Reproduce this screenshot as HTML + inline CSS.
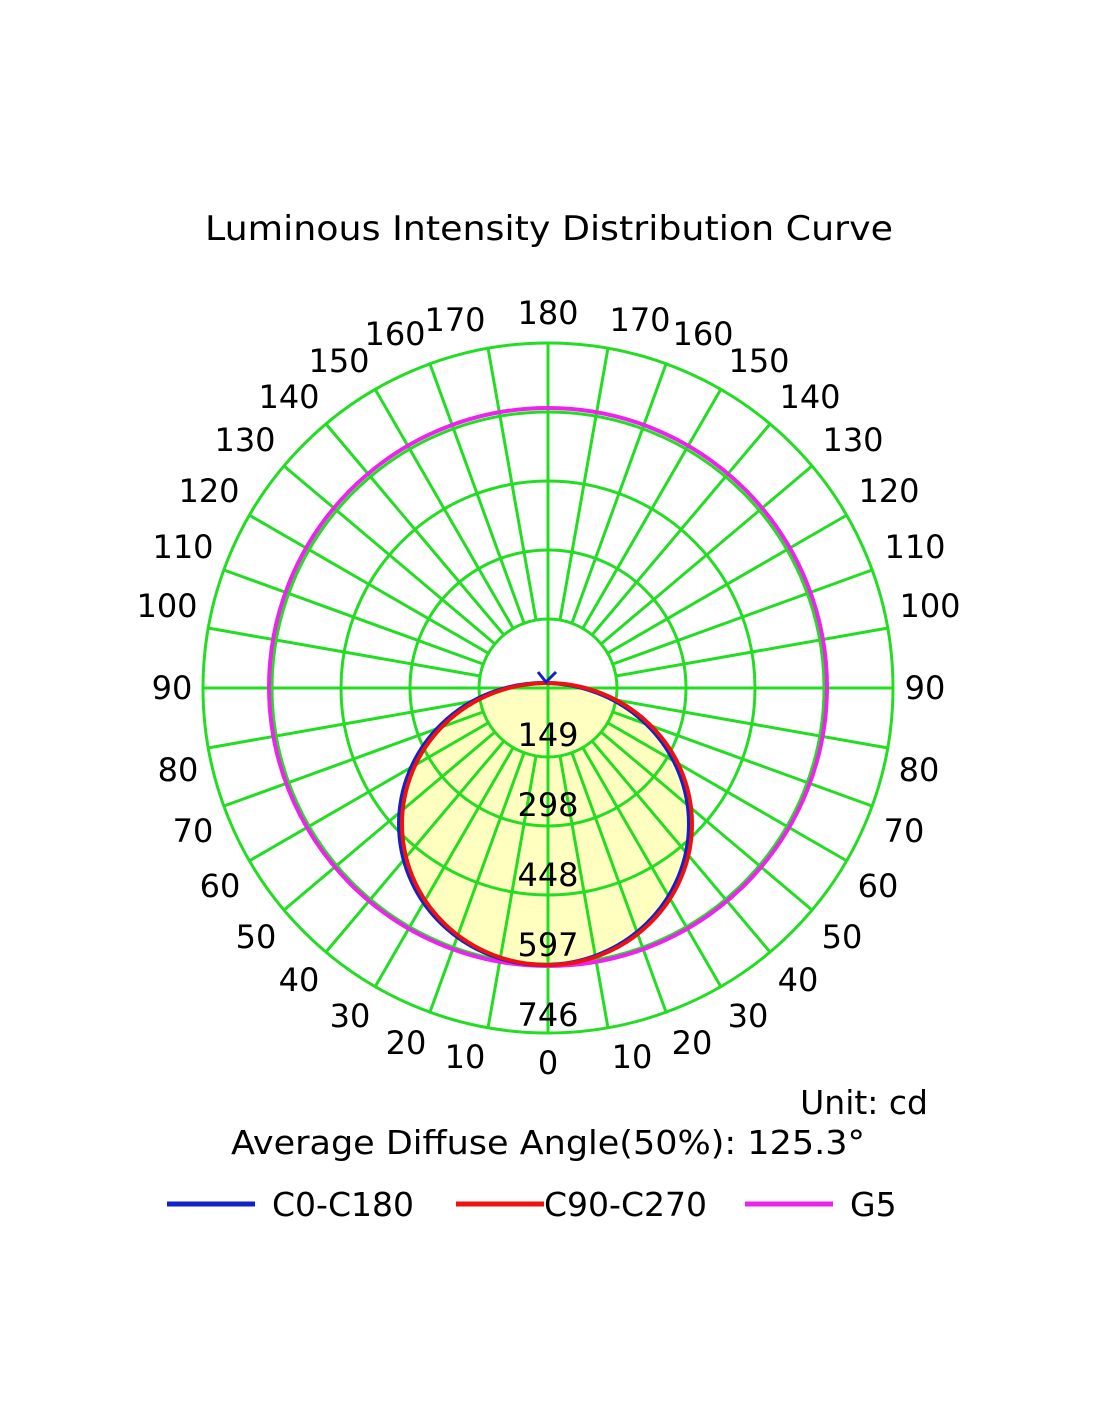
<!DOCTYPE html>
<html><head><meta charset="utf-8"><style>html,body{margin:0;padding:0;background:#fff}svg{display:block}</style></head>
<body>
<svg width="1100" height="1422" viewBox="0 0 1100 1422" xmlns="http://www.w3.org/2000/svg" font-family="DejaVu Sans, Liberation Sans, sans-serif">
<rect width="1100" height="1422" fill="#fff"/>
<text x="549" y="240" font-size="34" text-anchor="middle" textLength="688" lengthAdjust="spacingAndGlyphs">Luminous Intensity Distribution Curve</text>
<ellipse cx="546" cy="824" rx="146" ry="141" fill="#ffffc0"/>
<g stroke="#22dd22" stroke-width="3" fill="none">
<circle cx="548" cy="688" r="69"/><circle cx="548" cy="688" r="138"/><circle cx="548" cy="688" r="207"/><circle cx="548" cy="688" r="276"/><circle cx="548" cy="688" r="345"/>
<line x1="548" y1="343" x2="548" y2="1033"/><line x1="203" y1="688" x2="893" y2="688"/>
<g id="sp">
<line x1="560" y1="756" x2="608" y2="1028"/><line x1="572" y1="753" x2="666" y2="1012"/><line x1="583" y1="748" x2="721" y2="987"/><line x1="592" y1="741" x2="770" y2="952"/><line x1="601" y1="732" x2="812" y2="910"/><line x1="608" y1="723" x2="847" y2="861"/><line x1="613" y1="712" x2="872" y2="806"/><line x1="616" y1="700" x2="888" y2="748"/>
<line x1="616" y1="676" x2="888" y2="628"/><line x1="613" y1="664" x2="872" y2="570"/><line x1="608" y1="653" x2="847" y2="515"/><line x1="601" y1="644" x2="812" y2="466"/><line x1="592" y1="635" x2="770" y2="424"/><line x1="583" y1="628" x2="721" y2="389"/><line x1="572" y1="623" x2="666" y2="364"/><line x1="560" y1="620" x2="608" y2="348"/>
</g>
<use href="#sp" transform="translate(1096 0) scale(-1 1)"/>
</g>
<circle cx="548" cy="687" r="279" fill="none" stroke="#ee22ee" stroke-width="4"/>
<ellipse cx="544" cy="824" rx="145" ry="141" fill="none" stroke="#1122cc" stroke-width="4"/>
<ellipse cx="547" cy="824" rx="145" ry="141" fill="none" stroke="#ee1111" stroke-width="4"/>
<path d="M538 672 L546 682 L556 672" stroke="#1122cc" stroke-width="3" fill="none"/>
<g font-size="32" text-anchor="middle" dominant-baseline="central" fill="#000">
<text x="548" y="735">149</text><text x="548" y="805">298</text><text x="548" y="875">448</text><text x="548" y="945">597</text><text x="548" y="1015">746</text>
<text x="465" y="1057">10</text><text x="406" y="1043">20</text><text x="350" y="1016">30</text><text x="299" y="980">40</text><text x="256" y="937">50</text><text x="220" y="886">60</text><text x="193" y="831">70</text><text x="178" y="770">80</text><text x="172" y="688">90</text><text x="167" y="606">100</text><text x="183" y="547">110</text><text x="209" y="491">120</text><text x="245" y="440">130</text><text x="289" y="397">140</text><text x="339" y="361">150</text><text x="395" y="334">160</text><text x="455" y="320">170</text><text x="548" y="313">180</text>
<text x="632" y="1057">10</text><text x="692" y="1043">20</text><text x="748" y="1016">30</text><text x="798" y="980">40</text><text x="842" y="937">50</text><text x="878" y="886">60</text><text x="904" y="831">70</text><text x="919" y="770">80</text><text x="925" y="688">90</text><text x="930" y="606">100</text><text x="915" y="547">110</text><text x="889" y="491">120</text><text x="853" y="440">130</text><text x="810" y="397">140</text><text x="759" y="361">150</text><text x="703" y="334">160</text><text x="640" y="320">170</text><text x="548" y="1063">0</text>
</g>
<g font-size="33" fill="#000">
<text x="928" y="1114" text-anchor="end">Unit: cd</text>
<text x="548" y="1154" text-anchor="middle" textLength="634" lengthAdjust="spacingAndGlyphs">Average Diffuse Angle(50%): 125.3°</text>
<line x1="167" y1="1204" x2="255" y2="1204" stroke="#1122cc" stroke-width="5"/>
<text x="272" y="1216">C0-C180</text>
<line x1="456" y1="1204" x2="544" y2="1204" stroke="#ee1111" stroke-width="5"/>
<text x="544" y="1216">C90-C270</text>
<line x1="745" y1="1204" x2="833" y2="1204" stroke="#ee22ee" stroke-width="5"/>
<text x="850" y="1216">G5</text>
</g>
</svg>
</body></html>
